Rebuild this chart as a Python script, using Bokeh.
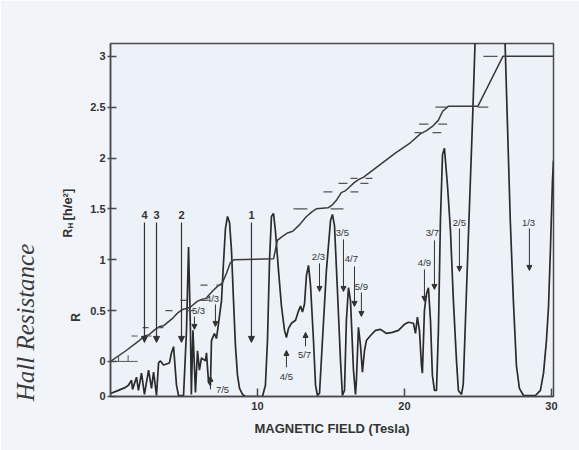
import numpy as np
from bokeh.plotting import figure
from bokeh.models import (Range1d, FixedTicker, CustomJSTickFormatter, Label, Arrow, NormalHead)
from bokeh.embed import file_html
from bokeh.resources import INLINE

# ---------------- data ----------------
# Hall resistance R_H [h/e^2] vs magnetic field (Tesla)
hall_b = [0, 1.0, 2.0, 2.3, 2.6, 3.0, 3.3, 3.6, 4.2, 4.6, 4.9, 5.4, 5.9, 6.2, 6.5, 7.0, 7.3, 7.6,
          7.9, 8.15, 8.4, 11.1, 11.35, 11.7, 12.0, 12.4, 12.9, 13.3, 13.7, 14.0, 14.8, 15.1, 15.4,
          15.7, 16.0, 16.3, 16.6, 16.9, 17.2, 18.3, 19.4, 20.4, 21.1, 21.5, 21.9, 22.3, 22.6, 23.0,
          25.0, 26.7, 30.14]
hall_h = [0, 0.10, 0.21, 0.25, 0.26, 0.31, 0.34, 0.35, 0.42, 0.48, 0.51, 0.53, 0.59, 0.61, 0.62,
          0.70, 0.74, 0.77, 0.87, 0.97, 1.0, 1.01, 1.19, 1.23, 1.26, 1.28, 1.35, 1.42, 1.47, 1.50,
          1.51, 1.54, 1.59, 1.66, 1.68, 1.72, 1.76, 1.79, 1.81, 1.93, 2.05, 2.15, 2.24, 2.27, 2.31,
          2.37, 2.46, 2.51, 2.51, 3.0, 3.0]

# Longitudinal resistance R (same scale, zero at the bottom of the frame)
rxx_b = [0.0, 0.54, 1.02, 1.22, 1.43, 1.50, 1.77, 1.90, 2.11, 2.31, 2.59, 2.79, 2.93, 3.13, 3.27,
         3.40, 3.61, 4.01, 4.15, 4.29, 4.49, 4.63, 4.97, 5.17, 5.31, 5.44, 5.50, 5.61, 5.78, 5.92,
         6.05, 6.19, 6.46, 6.53, 6.67, 6.80, 6.87, 7.07, 7.21, 7.35, 7.55, 7.69, 7.82, 7.96, 8.10,
         8.23, 8.37, 8.50, 8.64, 8.78, 8.98, 9.18, 10.34, 10.54, 10.68, 10.82, 10.95, 11.09, 11.22,
         11.43, 11.63, 11.84, 11.97, 12.11, 12.31, 12.59, 12.79, 12.93, 13.06, 13.20, 13.33, 13.47,
         13.61, 13.81, 13.95, 14.08, 14.22, 14.42, 14.69, 14.97, 15.10, 15.24, 15.44, 15.65, 15.78,
         15.92, 16.05, 16.19, 16.33, 16.53, 16.67, 16.73, 16.87, 17.01, 17.14, 17.28, 17.41, 17.69,
         18.03, 18.37, 18.78, 19.18, 19.59, 20.0, 20.27, 20.61, 20.75, 20.88, 21.02, 21.16, 21.22,
         21.36, 21.50, 21.63, 21.77, 21.90, 22.04, 22.18, 22.31, 22.45, 22.59, 22.72, 22.93, 23.13,
         23.33, 23.54, 23.67, 23.88, 24.0, 24.22, 24.42, 24.63, 24.83, 26.8, 27.0, 27.2, 27.41,
         27.62, 27.82, 28.1, 28.91, 29.25, 29.46, 29.66, 29.80, 29.93, 30.07, 30.14]
rxx_r = [0.03, 0.06, 0.09, 0.11, 0.16, 0.07, 0.19, 0.06, 0.23, 0.02, 0.26, 0.08, 0.24, 0.01, 0.33,
         0.35, 0.31, 0.33, 0.43, 0.49, 0.11, 0.01, 0.01, 0.65, 1.47, 0.65, 0.02, 0.65, 0.04, 0.45,
         0.26, 0.38, 0.35, 0.43, 0.14, 0.11, 0.55, 0.62, 0.57, 0.72, 0.94, 1.32, 1.65, 1.77, 1.71,
         1.44, 0.94, 0.50, 0.21, 0.08, 0.02, 0.0, 0.0, 0.11, 0.55, 1.34, 1.77, 1.80, 1.63,
         1.24, 0.89, 0.65, 0.58, 0.67, 0.72, 0.75, 0.84, 0.89, 0.83, 0.91, 1.19, 1.29,
         1.09, 0.55, 0.11, 0.01, 0.03, 0.55, 1.24, 1.73, 1.79, 1.68, 1.04, 0.35, 0.01,
         0.06, 0.75, 1.07, 0.94, 0.26, 0.02, 0.16, 0.68, 0.50, 0.24, 0.45, 0.55, 0.60,
         0.65, 0.66, 0.62, 0.63, 0.65, 0.71, 0.73, 0.72, 0.62, 0.78, 0.65, 0.30, 0.23,
         0.85, 1.01, 1.07, 0.75, 0.21, 0.06, 0.06, 0.65, 1.75, 2.38, 2.44, 2.07, 1.63,
         0.94, 0.35, 0.06, 0.02, 0.12, 1.04, 1.86, 2.71, 3.6, 3.7, 2.71, 1.73, 0.94,
         0.30, 0.08, 0.01, 0.01, 0.06, 0.23, 0.55, 0.88, 1.44, 2.12, 2.32]

# dashes marking the expected plateau values
dash_h = [0.25, 0.25, 0.333, 0.333, 0.5, 0.5, 0.6, 0.6, 0.75, 0.75, 1.5, 1.5, 1.667, 1.667,
          1.75, 1.75, 1.8, 1.8, 2.25, 2.25, 2.333, 2.333, 2.5, 2.5, 3.0]
dash_b0 = [1.43, 2.45, 2.18, 3.2, 3.74, 5.24, 4.76, 6.12, 6.12, 7.21, 12.45, 14.97, 14.49, 16.33,
           15.51, 17.0, 16.33, 17.35, 20.68, 21.9, 21.0, 22.3, 22.1, 24.97, 25.37]
dash_b1 = [1.84, 2.79, 2.59, 3.6, 4.22, 5.71, 5.17, 6.53, 6.6, 7.62, 13.4, 15.85, 15.1, 16.87,
           16.12, 17.55, 16.8, 17.82, 21.29, 22.5, 21.63, 22.9, 22.9, 25.7, 26.33]

# filling factors (integer) with their field positions
int_labels = ["4", "3", "2", "1"]
int_b = [2.31, 3.13, 4.83, 9.59]

# fractional filling factors: label, field of arrow, label position, arrow tail / head
frac_labels = ["4/3", "5/3", "7/5", "4/5", "5/7", "2/3", "3/5", "4/7", "5/9", "4/9", "3/7", "2/5", "1/3"]
frac_b = [7.14, 5.71, 6.80, 11.97, 13.27, 14.22, 15.85, 16.60, 17.07, 21.36, 22.04, 23.74, 28.50]
frac_lab_b = [6.94, 5.99, 7.62, 11.97, 13.20, 14.15, 15.78, 16.39, 17.07, 21.36, 21.90, 23.74, 28.44]
frac_lab_h = [0.619, 0.501, -0.275, -0.147, 0.069, 1.032, 1.268, 1.013, 0.737, 0.973, 1.268, 1.367, 1.367]
frac_tail = [0.560, 0.442, -0.275, -0.059, 0.147, 0.964, 1.20, 0.934, 0.678, 0.905, 1.19, 1.308, 1.308]
frac_head = [0.344, 0.315, -0.147, 0.108, 0.285, 0.688, 0.688, 0.541, 0.442, 0.590, 0.708, 0.885, 0.895]

y_ticks = [-0.344, 0, 0.5, 1, 1.5, 2, 2.5, 3]
x_ticks = [10, 20, 30]

# ---------------- figure ----------------
INK = "#333333"
FONT = "Liberation Sans"
p = figure(width=579, height=450, output_backend="svg", toolbar_location=None,
           x_range=Range1d(0, 30.14), y_range=Range1d(-0.345, 3.126),
           min_border_left=110, min_border_right=26, min_border_top=43, min_border_bottom=54)
p.extra_y_ranges = {"rxx": Range1d(0, 3.471)}
p.background_fill_color = "#edf2f8"
p.border_fill_color = "#f1f5f9"
p.outline_line_color = "#4a4a4a"
p.outline_line_width = 1.5
p.grid.visible = False

fmt = CustomJSTickFormatter(code="return tick < -0.2 ? '0' : String(tick);")
for ax in (p.xaxis[0], p.yaxis[0]):
    ax.formatter = fmt
    ax.axis_line_color = "#4a4a4a"
    ax.axis_line_width = 1.5
    ax.major_tick_line_color = "#4a4a4a"
    ax.major_tick_line_width = 1.5
    ax.minor_tick_line_color = None
    ax.major_label_text_font = FONT
    ax.major_label_text_font_style = "bold"
    ax.major_label_text_font_size = "11px"
    ax.major_label_text_color = INK

p.xaxis.ticker = FixedTicker(ticks=x_ticks)
p.xaxis.major_tick_in = 8
p.xaxis.major_tick_out = 0
p.xaxis.major_label_standoff = 5
p.xaxis.axis_label = "MAGNETIC FIELD (Tesla)"
p.xaxis.axis_label_text_font = FONT
p.xaxis.axis_label_text_font_style = "bold"
p.xaxis.axis_label_text_font_size = "13px"
p.xaxis.axis_label_text_color = INK
p.xaxis.axis_label_standoff = 8

p.yaxis.ticker = FixedTicker(ticks=y_ticks)
p.yaxis.major_tick_in = 6
p.yaxis.major_tick_out = 3
p.yaxis.major_label_standoff = 2

# curves
p.line(rxx_b, rxx_r, y_range_name="rxx", line_color="#2b2b2b", line_width=1.7)
p.line(hall_b, hall_h, line_color="#3a3a3a", line_width=1.5)
p.segment(x0=dash_b0, y0=dash_h, x1=dash_b1, y1=dash_h, line_color="#555555", line_width=1.2)
p.segment(x0=[0.0, 0.55, 1.2], y0=[0.0, 0.0, 0.0], x1=[1.85, 0.55, 1.2], y1=[0.0, 0.06, 0.06],
          line_color="#555555", line_width=1.0)

# arrows for integer filling factors
for lab, b in zip(int_labels, int_b):
    p.add_layout(Arrow(x_start=b, y_start=1.367, x_end=b, y_end=0.187, line_color=INK, line_width=1.2,
                       end=NormalHead(size=6, line_color=INK, fill_color=INK)))
    p.add_layout(Label(x=b, y=1.436, text=lab, text_align="center", text_baseline="middle",
                       text_font=FONT, text_font_style="bold",
                       text_font_size="11px", text_color=INK))

for lab, b, lb, lh, t, h in zip(frac_labels, frac_b, frac_lab_b, frac_lab_h, frac_tail, frac_head):
    p.add_layout(Arrow(x_start=b, y_start=t, x_end=b, y_end=h, line_color=INK, line_width=1.0,
                       end=NormalHead(size=5, line_color=INK, fill_color=INK)))
    p.add_layout(Label(x=lb, y=lh, text=lab, text_align="center", text_baseline="middle",
                       text_font=FONT, text_font_size="9.5px", text_color=INK))

# ---- texts outside the frame (canvas units, placed in the left side panel) ----
def side_label(x, y, text, size, align="center", style="bold", font=FONT, color=INK):
    p.add_layout(Label(x=x, y=y, x_units="canvas", y_units="canvas", text=text, angle=np.pi / 2,
                       text_align=align, text_baseline="middle", text_font=font,
                       text_font_style=style, text_font_size=size, text_color=color), "left")

side_label(25, 322, "Hall Resistance", "25px", style="italic", font="Liberation Serif", color="#3a3a3a")
side_label(67, 237, "R", "12px", align="left")
side_label(70, 228, "H", "8px", align="left")
side_label(67, 220, "[h/e²]", "13px", align="left")
side_label(75, 317, "R", "12px")

open("out.html", "w").write(file_html(p, INLINE))
